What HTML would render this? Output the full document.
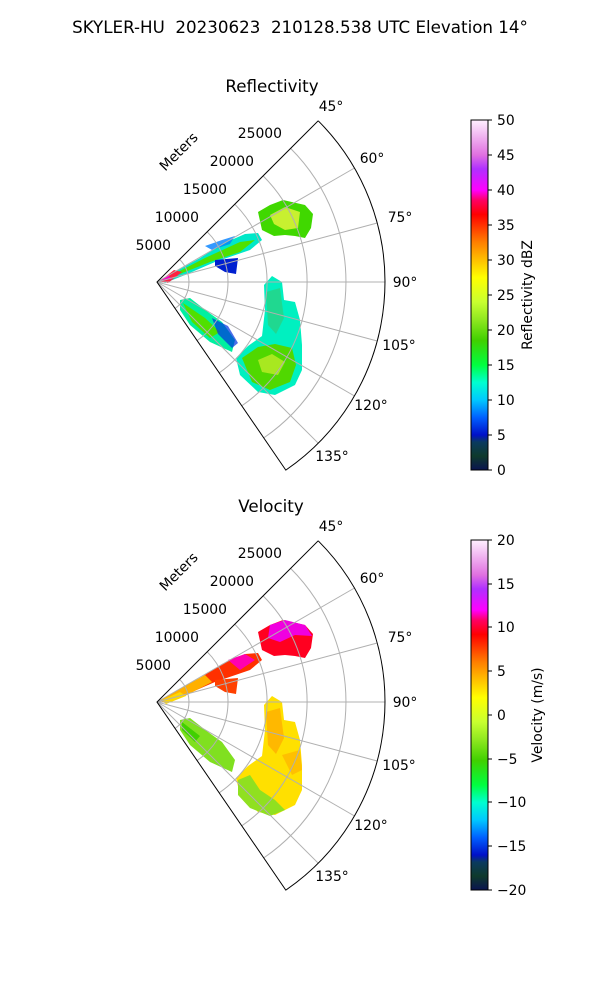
<!DOCTYPE html>
<html><head><meta charset="utf-8"><style>
body{margin:0;background:#fff;}
svg{display:block;font-family:"DejaVu Sans","Liberation Sans",sans-serif;}
text{white-space:pre;}
</style></head><body>
<svg width="600" height="1000" viewBox="0 0 600 1000">
<defs>
<linearGradient id="cm" x1="0" y1="1" x2="0" y2="0">
<stop offset="0" stop-color="#0a1450"/><stop offset="0.04" stop-color="#0e3a2c"/><stop offset="0.08" stop-color="#0a3a60"/>
<stop offset="0.1" stop-color="#0010c8"/><stop offset="0.15" stop-color="#0060ff"/><stop offset="0.2" stop-color="#00c8ff"/>
<stop offset="0.25" stop-color="#00ffd0"/><stop offset="0.3" stop-color="#00ff40"/><stop offset="0.37" stop-color="#40d000"/>
<stop offset="0.43" stop-color="#90e820"/><stop offset="0.48" stop-color="#c8ff30"/><stop offset="0.55" stop-color="#ffff00"/>
<stop offset="0.6" stop-color="#ffc000"/><stop offset="0.65" stop-color="#ff8000"/><stop offset="0.7" stop-color="#ff3000"/>
<stop offset="0.73" stop-color="#ff0000"/><stop offset="0.77" stop-color="#ff0060"/><stop offset="0.8" stop-color="#ff00ff"/>
<stop offset="0.86" stop-color="#b030ff"/><stop offset="0.9" stop-color="#e070e0"/><stop offset="1" stop-color="#fff0ff"/>
</linearGradient>
<g id="grid">
<g fill="none" stroke="#b0b0b0" stroke-width="1">
<path d="M22.6,-22.6 A32,32 0 0 1 18.1,26.4"/>
<path d="M50.2,-50.2 A71,71 0 0 1 40.1,58.6"/>
<path d="M77.8,-77.8 A110,110 0 0 1 62.2,90.8"/>
<path d="M106.1,-106.1 A150,150 0 0 1 84.8,123.8"/>
<path d="M133.6,-133.6 A189,189 0 0 1 106.8,155.9"/>
<line x1="0" y1="0" x2="197.5" y2="-114"/>
<line x1="0" y1="0" x2="220.2" y2="-59"/>
<line x1="0" y1="0" x2="228" y2="0"/>
<line x1="0" y1="0" x2="220.2" y2="59"/>
<line x1="0" y1="0" x2="197.5" y2="114"/>
<line x1="0" y1="0" x2="161.2" y2="161.2"/>
</g>
<path d="M161.2,-161.2 L0,0 L128.8,188.1 A228,228 0 0 0 161.2,-161.2" fill="none" stroke="#000" stroke-width="1"/>
</g>
<g id="labels" font-size="13.9">
<text x="331" y="111" text-anchor="middle">45°</text>
<text x="372" y="163" text-anchor="middle">60°</text>
<text x="400" y="222" text-anchor="middle">75°</text>
<text x="405" y="287" text-anchor="middle">90°</text>
<text x="399" y="350" text-anchor="middle">105°</text>
<text x="371" y="410" text-anchor="middle">120°</text>
<text x="332" y="461" text-anchor="middle">135°</text>
<text x="171" y="250" text-anchor="end">5000</text>
<text x="199" y="222" text-anchor="end">10000</text>
<text x="227" y="194" text-anchor="end">15000</text>
<text x="254" y="166" text-anchor="end">20000</text>
<text x="282" y="138" text-anchor="end">25000</text>
<text x="0" y="0" text-anchor="middle" transform="translate(182,155) rotate(-45)">Meters</text>
</g>
</defs>

<text x="300" y="33" text-anchor="middle" font-size="16.7">SKYLER-HU  20230623  210128.538 UTC Elevation 14°</text>

<!-- Reflectivity -->
<text x="272" y="92" text-anchor="middle" font-size="16.7">Reflectivity</text>
<g>
<path d="M160,280 L200,258 L222,244 L245,234 L258,233 L262,240 L250,250 L215,262 L185,275 L165,283Z" fill="#00e8c8"/>
<path d="M170,276 L205,258 L240,242 L255,240 L240,252 L210,262 L180,274Z" fill="#50e000"/>
<path d="M205,246 L222,240 L235,236 L230,244 L212,250Z" fill="#0080ff" opacity=".8"/>
<path d="M215,260 L238,258 L236,274 L225,272 L215,266Z" fill="#0020d0"/>
<path d="M160,281 L174,270 L182,272 L168,283Z" fill="#ff2040"/>
<path d="M160,281 L168,275 L172,279Z" fill="#ff00c0"/>
<path d="M258,212 L270,205 L283,200 L305,205 L313,214 L311,228 L305,238 L295,236 L285,235 L274,236 L262,230Z" fill="#40d800"/>
<path d="M270,215 L285,207 L300,212 L298,228 L285,230 L274,224Z" fill="#c8f030"/>
<path d="M180,300 L190,298 L208,312 L222,322 L235,340 L232,352 L210,342 L190,325 L180,310Z" fill="#00f0a0"/>
<path d="M183,303 L205,318 L220,332 L210,338 L192,322Z" fill="#50e000"/>
<path d="M212,318 L228,326 L238,343 L232,348 L218,334Z" fill="#0030e0" opacity=".7"/>
<path d="M264,285 L272,276 L282,282 L284,300 L295,302 L300,320 L302,345 L302,370 L295,385 L275,395 L258,392 L240,375 L236,358 L248,346 L262,336 L265,310Z" fill="#00f0c0"/>
<path d="M242,358 L258,347 L275,344 L292,348 L296,365 L290,382 L270,390 L252,382Z" fill="#50d800"/>
<path d="M258,360 L272,354 L285,362 L278,375 L262,372Z" fill="#a8e820"/>
<path d="M266,292 L280,288 L284,318 L276,334 L268,325Z" fill="#20d890"/>
</g>
<use href="#grid" transform="translate(157,282)"/>
<use href="#labels"/>
<rect x="471" y="120" width="17" height="350" fill="url(#cm)" stroke="#000" stroke-width="1"/>
<g font-size="13.9">
<line x1="488" y1="120" x2="492" y2="120" stroke="#000"/><text x="497" y="125">50</text>
<line x1="488" y1="155" x2="492" y2="155" stroke="#000"/><text x="497" y="160">45</text>
<line x1="488" y1="190" x2="492" y2="190" stroke="#000"/><text x="497" y="195">40</text>
<line x1="488" y1="225" x2="492" y2="225" stroke="#000"/><text x="497" y="230">35</text>
<line x1="488" y1="260" x2="492" y2="260" stroke="#000"/><text x="497" y="265">30</text>
<line x1="488" y1="295" x2="492" y2="295" stroke="#000"/><text x="497" y="300">25</text>
<line x1="488" y1="330" x2="492" y2="330" stroke="#000"/><text x="497" y="335">20</text>
<line x1="488" y1="365" x2="492" y2="365" stroke="#000"/><text x="497" y="370">15</text>
<line x1="488" y1="400" x2="492" y2="400" stroke="#000"/><text x="497" y="405">10</text>
<line x1="488" y1="435" x2="492" y2="435" stroke="#000"/><text x="497" y="440">5</text>
<line x1="488" y1="470" x2="492" y2="470" stroke="#000"/><text x="497" y="475">0</text>
<text transform="translate(532,295) rotate(-90)" text-anchor="middle">Reflectivity dBZ</text>
</g>

<!-- Velocity -->
<text x="271" y="512" text-anchor="middle" font-size="16.7">Velocity</text>
<g transform="translate(0,420)">
<path d="M160,280 L200,258 L222,244 L245,234 L258,233 L262,240 L250,250 L215,262 L185,275 L165,283Z" fill="#ff3000"/>
<path d="M160,280 L185,266 L205,255 L212,262 L185,276 L165,283Z" fill="#ffb000"/>
<path d="M162,280 L180,272 L186,276 L166,284Z" fill="#ffd800"/>
<path d="M228,240 L245,234 L255,240 L240,250Z" fill="#ff00b0"/>
<path d="M215,260 L238,258 L236,274 L225,272 L215,266Z" fill="#ff4000"/>
<path d="M258,212 L270,205 L283,200 L305,205 L313,214 L311,228 L305,238 L295,236 L285,235 L274,236 L262,230Z" fill="#ff0020"/>
<path d="M270,205 L285,200 L305,205 L312,216 L295,215 L280,222 L268,218Z" fill="#f000e0"/>
<path d="M180,300 L190,298 L208,312 L222,322 L235,340 L232,352 L210,342 L190,325 L180,310Z" fill="#80e020"/>
<path d="M182,302 L200,316 L195,322 L182,310Z" fill="#40d000"/>
<path d="M264,285 L272,276 L282,282 L284,300 L295,302 L300,320 L302,345 L302,370 L295,385 L275,395 L258,392 L240,375 L236,358 L248,346 L262,336 L265,310Z" fill="#ffe000"/>
<path d="M266,292 L280,288 L284,318 L276,334 L268,325Z" fill="#ffb800"/>
<path d="M238,360 L250,355 L260,370 L275,380 L285,390 L270,396 L250,388 L238,375Z" fill="#90e020"/>
<path d="M282,335 L300,330 L302,350 L292,355Z" fill="#ffc000"/>
</g>
<use href="#grid" transform="translate(157,702)"/>
<use href="#labels" transform="translate(0,420)"/>
<rect x="471" y="540" width="17" height="350" fill="url(#cm)" stroke="#000" stroke-width="1"/>
<g font-size="13.9">
<line x1="488" y1="540" x2="492" y2="540" stroke="#000"/><text x="497" y="545">20</text>
<line x1="488" y1="584" x2="492" y2="584" stroke="#000"/><text x="497" y="589">15</text>
<line x1="488" y1="627" x2="492" y2="627" stroke="#000"/><text x="497" y="632">10</text>
<line x1="488" y1="671" x2="492" y2="671" stroke="#000"/><text x="497" y="676">5</text>
<line x1="488" y1="715" x2="492" y2="715" stroke="#000"/><text x="497" y="720">0</text>
<line x1="488" y1="759" x2="492" y2="759" stroke="#000"/><text x="497" y="764">−5</text>
<line x1="488" y1="802" x2="492" y2="802" stroke="#000"/><text x="497" y="807">−10</text>
<line x1="488" y1="846" x2="492" y2="846" stroke="#000"/><text x="497" y="851">−15</text>
<line x1="488" y1="890" x2="492" y2="890" stroke="#000"/><text x="497" y="895">−20</text>
<text transform="translate(542,715) rotate(-90)" text-anchor="middle">Velocity (m/s)</text>
</g>
</svg>
</body></html>
